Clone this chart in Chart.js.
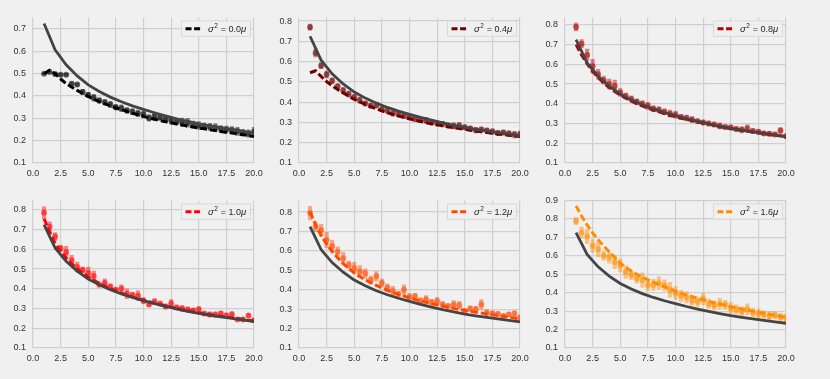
<!DOCTYPE html>
<html>
<head>
<meta charset="utf-8">
<title>Dispersion panels</title>
<script src="https://cdn.jsdelivr.net/npm/chart.js@4.4.0/dist/chart.umd.min.js"></script>
<style>
  body { margin: 0; background: #f0f0f0; }
  #wrap { position: relative; width: 830px; height: 379px; background: #f0f0f0; }
  #wrap canvas { position: absolute; }
</style>
</head>
<body>
<div id="wrap"></div>
<script>
// x positions of the simulated points and of the theory curve
const xFine = [1, 1.5, 2, 2.5, 3, 3.5, 4, 4.5, 5, 5.5, 6, 6.5, 7, 7.5, 8, 8.5, 9, 9.5, 10, 10.5,
  11, 11.5, 12, 12.5, 13, 13.5, 14, 14.5, 15, 15.5, 16, 16.5, 17, 17.5, 18, 18.5, 19, 19.5, 20];
const xTheory = [1, 2, 3, 4, 5, 6, 7, 8, 9, 10, 11, 12, 13, 14, 15, 16, 17, 18, 19, 20];

// solid curve, same in every panel
const theory = [0.725, 0.607, 0.540, 0.490, 0.450, 0.420, 0.395, 0.374, 0.356, 0.340,
  0.325, 0.311, 0.298, 0.286, 0.275, 0.266, 0.258, 0.250, 0.242, 0.234];

const sigmaLabels = ['0.0', '0.4', '0.8', '1.0', '1.2', '1.6'];

// sigma^2 = 0.0 mu
const dash0 = [0.500, 0.515, 0.500, 0.476, 0.456, 0.440, 0.425, 0.411, 0.398, 0.386,
  0.375, 0.365, 0.356, 0.347, 0.339, 0.331, 0.323, 0.316, 0.309, 0.302,
  0.296, 0.290, 0.285, 0.280, 0.275, 0.270, 0.265, 0.261, 0.257, 0.253,
  0.249, 0.245, 0.241, 0.237, 0.234, 0.230, 0.227, 0.223, 0.218];
const pts0 = [0.500, 0.507, 0.498, 0.495, 0.495, 0.455, 0.451, 0.418, 0.405, 0.392,
  0.380, 0.372, 0.362, 0.350, 0.345, 0.335, 0.330, 0.322, 0.318, 0.302,
  0.310, 0.305, 0.298, 0.290, 0.285, 0.283, 0.280, 0.272, 0.268, 0.265,
  0.262, 0.258, 0.252, 0.250, 0.247, 0.242, 0.236, 0.232, 0.240];
const err0 = [0.005, 0.005, 0.008, 0.006, 0.006, 0.008, 0.008, 0.012, 0.012, 0.015,
  0.012, 0.012, 0.014, 0.012, 0.015, 0.012, 0.014, 0.015, 0.016, 0.015,
  0.018, 0.014, 0.015, 0.016, 0.015, 0.018, 0.020, 0.016, 0.018, 0.015,
  0.016, 0.018, 0.016, 0.015, 0.016, 0.018, 0.015, 0.016, 0.020];

// sigma^2 = 0.4 mu
const dash1 = [0.545, 0.555, 0.527, 0.502, 0.481, 0.462, 0.446, 0.430, 0.414, 0.401,
  0.389, 0.378, 0.367, 0.357, 0.348, 0.340, 0.332, 0.325, 0.318, 0.311,
  0.305, 0.299, 0.294, 0.289, 0.284, 0.279, 0.274, 0.270, 0.266, 0.262,
  0.258, 0.254, 0.250, 0.247, 0.243, 0.240, 0.237, 0.234, 0.230];
const pts1 = [0.770, 0.643, 0.580, 0.537, 0.505, 0.478, 0.458, 0.440, 0.425, 0.410,
  0.393, 0.382, 0.385, 0.365, 0.358, 0.345, 0.340, 0.333, 0.325, 0.318,
  0.312, 0.310, 0.300, 0.295, 0.292, 0.285, 0.283, 0.285, 0.276, 0.270,
  0.262, 0.265, 0.260, 0.255, 0.248, 0.250, 0.245, 0.240, 0.242];
const err1 = [0.015, 0.020, 0.015, 0.018, 0.015, 0.012, 0.015, 0.015, 0.012, 0.015,
  0.012, 0.012, 0.015, 0.012, 0.012, 0.014, 0.012, 0.015, 0.012, 0.014,
  0.012, 0.015, 0.012, 0.012, 0.014, 0.012, 0.015, 0.014, 0.012, 0.012,
  0.014, 0.012, 0.012, 0.014, 0.012, 0.012, 0.014, 0.016, 0.015];

// sigma^2 = 0.8 mu
const dash2 = [0.700, 0.648, 0.603, 0.565, 0.533, 0.506, 0.483, 0.463, 0.445, 0.429,
  0.414, 0.401, 0.389, 0.378, 0.368, 0.359, 0.350, 0.342, 0.335, 0.328,
  0.321, 0.315, 0.309, 0.303, 0.297, 0.291, 0.285, 0.280, 0.275, 0.270,
  0.265, 0.261, 0.257, 0.253, 0.249, 0.245, 0.241, 0.237, 0.233];
const pts2 = [0.789, 0.705, 0.648, 0.590, 0.550, 0.520, 0.500, 0.490, 0.457, 0.440,
  0.425, 0.410, 0.400, 0.390, 0.375, 0.370, 0.360, 0.350, 0.345, 0.333,
  0.328, 0.320, 0.312, 0.305, 0.300, 0.295, 0.288, 0.282, 0.280, 0.272,
  0.268, 0.275, 0.262, 0.258, 0.250, 0.248, 0.245, 0.265, 0.235];
const err2 = [0.020, 0.020, 0.030, 0.035, 0.025, 0.020, 0.025, 0.030, 0.020, 0.015,
  0.015, 0.015, 0.015, 0.018, 0.015, 0.015, 0.015, 0.018, 0.018, 0.012,
  0.015, 0.015, 0.012, 0.012, 0.012, 0.012, 0.015, 0.012, 0.012, 0.012,
  0.015, 0.018, 0.012, 0.012, 0.012, 0.012, 0.012, 0.015, 0.012];

// sigma^2 = 1.0 mu
const dash3 = [0.755, 0.690, 0.630, 0.590, 0.556, 0.527, 0.502, 0.480, 0.460, 0.443,
  0.428, 0.414, 0.401, 0.389, 0.378, 0.368, 0.359, 0.350, 0.342, 0.334,
  0.327, 0.320, 0.314, 0.307, 0.301, 0.295, 0.290, 0.284, 0.279, 0.274,
  0.270, 0.265, 0.261, 0.257, 0.253, 0.249, 0.245, 0.241, 0.237];
const pts3 = [0.785, 0.715, 0.665, 0.605, 0.585, 0.545, 0.510, 0.495, 0.480, 0.465,
  0.420, 0.430, 0.410, 0.395, 0.400, 0.375, 0.370, 0.365, 0.340, 0.320,
  0.335, 0.325, 0.310, 0.325, 0.305, 0.300, 0.295, 0.290, 0.295, 0.275,
  0.270, 0.270, 0.275, 0.265, 0.270, 0.245, 0.245, 0.265, 0.240];
const err3 = [0.030, 0.025, 0.020, 0.015, 0.030, 0.025, 0.025, 0.015, 0.030, 0.025,
  0.010, 0.020, 0.015, 0.010, 0.020, 0.025, 0.010, 0.025, 0.015, 0.010,
  0.015, 0.010, 0.012, 0.020, 0.012, 0.015, 0.012, 0.012, 0.015, 0.010,
  0.012, 0.012, 0.012, 0.012, 0.015, 0.008, 0.010, 0.010, 0.010];

// sigma^2 = 1.2 mu
const dash4 = [0.800, 0.735, 0.680, 0.635, 0.597, 0.565, 0.535, 0.510, 0.487, 0.468,
  0.451, 0.436, 0.422, 0.409, 0.397, 0.386, 0.376, 0.367, 0.358, 0.350,
  0.342, 0.335, 0.328, 0.322, 0.316, 0.310, 0.304, 0.299, 0.294, 0.289,
  0.284, 0.280, 0.275, 0.271, 0.267, 0.263, 0.259, 0.254, 0.248];
const pts4 = [0.795, 0.724, 0.707, 0.656, 0.625, 0.596, 0.562, 0.528, 0.511, 0.494,
  0.483, 0.450, 0.469, 0.435, 0.410, 0.392, 0.378, 0.400, 0.362, 0.367,
  0.343, 0.350, 0.336, 0.341, 0.324, 0.316, 0.324, 0.320, 0.290, 0.302,
  0.299, 0.324, 0.282, 0.278, 0.275, 0.265, 0.273, 0.277, 0.256];
const err4 = [0.035, 0.025, 0.030, 0.040, 0.030, 0.025, 0.030, 0.020, 0.030, 0.030,
  0.025, 0.020, 0.025, 0.020, 0.020, 0.025, 0.015, 0.025, 0.020, 0.015,
  0.015, 0.020, 0.015, 0.020, 0.015, 0.012, 0.020, 0.020, 0.012, 0.015,
  0.015, 0.025, 0.015, 0.012, 0.012, 0.012, 0.012, 0.015, 0.015];

// sigma^2 = 1.6 mu
const dash5 = [0.870, 0.815, 0.767, 0.724, 0.687, 0.653, 0.622, 0.592, 0.560, 0.537,
  0.517, 0.500, 0.484, 0.470, 0.457, 0.444, 0.432, 0.420, 0.408, 0.397,
  0.387, 0.378, 0.369, 0.361, 0.353, 0.345, 0.338, 0.331, 0.324, 0.318,
  0.312, 0.306, 0.300, 0.294, 0.288, 0.283, 0.278, 0.272, 0.266];
const pts5 = [0.788, 0.726, 0.705, 0.653, 0.635, 0.600, 0.590, 0.565, 0.547, 0.512,
  0.495, 0.477, 0.468, 0.442, 0.442, 0.451, 0.440, 0.416, 0.398, 0.383,
  0.374, 0.356, 0.351, 0.365, 0.339, 0.330, 0.339, 0.334, 0.316, 0.309,
  0.298, 0.309, 0.292, 0.286, 0.281, 0.274, 0.277, 0.268, 0.263];
const err5 = [0.020, 0.030, 0.040, 0.035, 0.040, 0.025, 0.030, 0.035, 0.035, 0.035,
  0.025, 0.025, 0.040, 0.030, 0.030, 0.035, 0.030, 0.040, 0.035, 0.030,
  0.030, 0.025, 0.025, 0.030, 0.025, 0.025, 0.030, 0.025, 0.030, 0.025,
  0.025, 0.030, 0.025, 0.025, 0.020, 0.025, 0.020, 0.020, 0.020];

// tick labels
const xTicks = [0, 2.5, 5, 7.5, 10, 12.5, 15, 17.5, 20];
const yTicks07 = [0.1, 0.2, 0.3, 0.4, 0.5, 0.6, 0.7];
const yTicks08 = [0.1, 0.2, 0.3, 0.4, 0.5, 0.6, 0.7, 0.8];
const yTicks09 = [0.1, 0.2, 0.3, 0.4, 0.5, 0.6, 0.7, 0.8, 0.9];

const dashSets = [dash0, dash1, dash2, dash3, dash4, dash5];
const ptSets = [pts0, pts1, pts2, pts3, pts4, pts5];
const errSets = [err0, err1, err2, err3, err4, err5];
const yTickSets = [yTicks07, yTicks08, yTicks08, yTicks08, yTicks08, yTicks09];

// styles and placement of each panel
const colors = ['#000000', '#700000', '#b30000', '#ff0000', '#ff4800', '#ff8c00'];
const panelBox = [
  { left: 0,   top: 5,     yw: 33, h: 148, ymax: 0.752 },
  { left: 265, top: 5,     yw: 34, h: 148, ymax: 0.818 },
  { left: 531, top: 5,     yw: 34, h: 148, ymax: 0.838 },
  { left: 0,   top: 187.5, yw: 33, h: 150, ymax: 0.848 },
  { left: 265, top: 187.5, yw: 34, h: 150, ymax: 0.86 },
  { left: 531, top: 187.5, yw: 34, h: 150, ymax: 0.9 }
];
const plotWidth = 221;
const fontFamily = '"Liberation Sans", Arial, sans-serif';

function rgba(hex, a) {
  const n = parseInt(hex.slice(1), 16);
  return 'rgba(' + (n >> 16) + ',' + ((n >> 8) & 255) + ',' + (n & 255) + ',' + a + ')';
}

// legend box in the upper right corner of a panel
const sigmaLegend = {
  id: 'sigmaLegend',
  afterDraw(chart, args, opts) {
    const { ctx, chartArea } = chart;
    const w = 69, h = 15.5;
    const x = chartArea.right - 3.5 - w;
    const y = chartArea.top + 3.5;
    ctx.save();
    ctx.beginPath();
    ctx.rect(x, y, w, h);
    ctx.fillStyle = 'rgba(240,240,240,0.85)';
    ctx.fill();
    ctx.strokeStyle = '#d8d8d8';
    ctx.lineWidth = 1;
    ctx.stroke();

    const cy = y + h / 2;
    ctx.beginPath();
    ctx.setLineDash([6, 2.6]);
    ctx.lineWidth = 3;
    ctx.strokeStyle = opts.color;
    ctx.moveTo(x + 4, cy);
    ctx.lineTo(x + 19.5, cy);
    ctx.stroke();
    ctx.setLineDash([]);

    ctx.fillStyle = '#262626';
    ctx.textBaseline = 'alphabetic';
    const base = cy + 3.3;
    let tx = x + 26.5;
    ctx.font = 'italic 9.5px ' + fontFamily;
    ctx.fillText('σ', tx, base);
    tx += ctx.measureText('σ').width + 0.4;
    ctx.font = '6.5px ' + fontFamily;
    ctx.fillText('2', tx, base - 4);
    tx += ctx.measureText('2').width + 0.6;
    ctx.font = '9px ' + fontFamily;
    const mid = ' = ' + opts.sigma;
    ctx.fillText(mid, tx, base);
    tx += ctx.measureText(mid).width;
    ctx.font = 'italic 9.5px ' + fontFamily;
    ctx.fillText('μ', tx, base);
    ctx.restore();
  }
};

const wrap = document.getElementById('wrap');

sigmaLabels.forEach(function(sigma, i) {
  const box = panelBox[i];
  const color = colors[i];
  const canvas = document.createElement('canvas');
  canvas.width = box.yw + plotWidth + 16;
  canvas.height = 10 + box.h + 22;
  canvas.style.left = box.left + 'px';
  canvas.style.top = box.top + 'px';
  wrap.appendChild(canvas);

  const pts = ptSets[i], err = errSets[i];

  new Chart(canvas, {
    type: 'scatter',
    data: {
      datasets: [
        {
          type: 'line',
          label: 'theory',
          data: xTheory.map((x, k) => ({ x: x, y: theory[k] })),
          borderColor: '#444444',
          borderWidth: 2.8,
          pointRadius: 0,
          tension: 0,
          order: 0
        },
        {
          type: 'line',
          label: 'σ² = ' + sigma + 'μ',
          data: xFine.map((x, k) => ({ x: x, y: dashSets[i][k] })),
          borderColor: color,
          borderWidth: 3,
          borderDash: [7, 3],
          pointRadius: 0,
          tension: 0,
          order: 1
        },
        {
          type: 'scatter',
          label: 'mean',
          data: xFine.map((x, k) => ({ x: x, y: pts[k] })),
          pointRadius: 3,
          pointBorderWidth: 0,
          pointBackgroundColor: rgba(color, 0.55),
          order: 2
        },
        {
          type: 'bar',
          label: 'error',
          data: xFine.map((x, k) => ({ x: x, y: [pts[k] - err[k], pts[k] + err[k]] })),
          backgroundColor: rgba(color, 0.45),
          borderWidth: 0,
          barThickness: 3.5,
          grouped: false,
          order: 3
        }
      ]
    },
    options: {
      responsive: false,
      animation: false,
      events: [],
      layout: { padding: { top: 10, right: 16, left: 0, bottom: 0 } },
      plugins: {
        legend: { display: false },
        tooltip: { enabled: false },
        sigmaLegend: { color: color, sigma: sigma }
      },
      scales: {
        x: {
          type: 'linear',
          min: 0,
          max: 20,
          offset: false,
          afterBuildTicks: s => { s.ticks = xTicks.map(v => ({ value: v })); },
          afterFit: s => { s.height = 22; },
          grid: { color: '#cfcfcf', lineWidth: 1.2, drawTicks: false, offset: false },
          border: { display: false },
          ticks: {
            padding: 5,
            color: '#333333',
            autoSkip: false,
            maxRotation: 0,
            font: { family: fontFamily, size: 9 },
            callback: v => Number(v).toFixed(1)
          }
        },
        y: {
          type: 'linear',
          min: 0.1,
          max: box.ymax,
          afterBuildTicks: s => { s.ticks = yTickSets[i].map(v => ({ value: v })); },
          afterFit: s => { s.width = box.yw; },
          grid: { color: '#cfcfcf', lineWidth: 1.2, drawTicks: false },
          border: { display: false },
          ticks: {
            padding: 7,
            color: '#333333',
            font: { family: fontFamily, size: 9 },
            callback: v => Number(v).toFixed(1)
          }
        }
      }
    },
    plugins: [sigmaLegend]
  });
});
</script>
</body>
</html>
